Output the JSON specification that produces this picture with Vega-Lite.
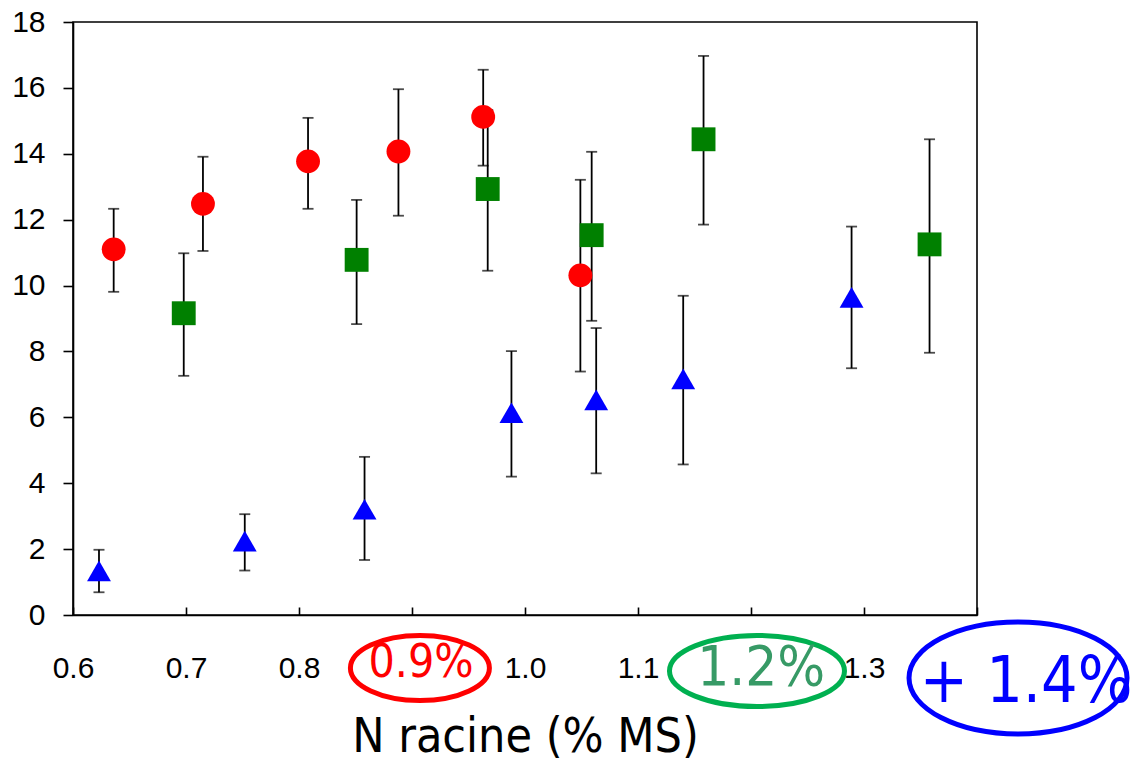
{
  "$schema": "https://vega.github.io/schema/vega-lite/v6.json",
  "width": 904,
  "height": 593,
  "autosize": {"type": "none"},
  "padding": {"left": 73, "top": 22, "right": 159, "bottom": 149},
  "background": "white",
  "config": {
    "view": {"stroke": "black", "strokeWidth": 1.6},
    "axis": {
      "grid": false,
      "domainColor": "black",
      "domainWidth": 1.6,
      "tickColor": "black",
      "tickWidth": 1.6,
      "labelFont": "Liberation Sans",
      "labelFontSize": 30,
      "labelColor": "black"
    }
  },
  "datasets": {
    "pts": [
      {"grp": "0.9%", "n": 0.636, "v": 11.10, "lo": 9.81, "hi": 12.33},
      {"grp": "0.9%", "n": 0.715, "v": 12.48, "lo": 11.05, "hi": 13.91},
      {"grp": "0.9%", "n": 0.808, "v": 13.77, "lo": 12.33, "hi": 15.09},
      {"grp": "0.9%", "n": 0.888, "v": 14.07, "lo": 12.12, "hi": 15.96},
      {"grp": "0.9%", "n": 0.963, "v": 15.12, "lo": 13.64, "hi": 16.55},
      {"grp": "0.9%", "n": 1.049, "v": 10.31, "lo": 7.39, "hi": 13.21},
      {"grp": "1.2%", "n": 0.698, "v": 9.16, "lo": 7.26, "hi": 10.98},
      {"grp": "1.2%", "n": 0.851, "v": 10.78, "lo": 8.83, "hi": 12.60},
      {"grp": "1.2%", "n": 0.967, "v": 12.93, "lo": 10.45, "hi": 15.33},
      {"grp": "1.2%", "n": 1.059, "v": 11.53, "lo": 8.93, "hi": 14.06},
      {"grp": "1.2%", "n": 1.158, "v": 14.44, "lo": 11.85, "hi": 16.97},
      {"grp": "1.2%", "n": 1.358, "v": 11.25, "lo": 7.96, "hi": 14.44},
      {"grp": "1.4%", "n": 0.623, "v": 1.34, "lo": 0.69, "hi": 1.98},
      {"grp": "1.4%", "n": 0.752, "v": 2.24, "lo": 1.35, "hi": 3.06},
      {"grp": "1.4%", "n": 0.858, "v": 3.21, "lo": 1.67, "hi": 4.80},
      {"grp": "1.4%", "n": 0.988, "v": 6.14, "lo": 4.20, "hi": 8.01},
      {"grp": "1.4%", "n": 1.063, "v": 6.53, "lo": 4.30, "hi": 8.71},
      {"grp": "1.4%", "n": 1.140, "v": 7.17, "lo": 4.57, "hi": 9.69},
      {"grp": "1.4%", "n": 1.289, "v": 9.64, "lo": 7.49, "hi": 11.79}
    ]
  },
  "layer": [
    {
      "data": {"name": "pts"},
      "mark": {
        "type": "errorbar",
        "ticks": {"size": 11, "thickness": 1.8, "color": "black"},
        "rule": {"strokeWidth": 1.8, "color": "black"}
      },
      "encoding": {
        "x": {
          "field": "n", "type": "quantitative",
          "scale": {"domain": [0.6, 1.4], "nice": false, "zero": false},
          "axis": {
            "values": [0.6, 0.7, 0.8, 0.9, 1.0, 1.1, 1.2, 1.3, 1.4],
            "format": ".1f",
            "labelExpr": "(abs(datum.value-0.9)<0.01 || abs(datum.value-1.2)<0.01 || abs(datum.value-1.4)<0.01) ? '' : datum.label",
            "tickSize": -8,
            "labelPadding": 46,
            "labelFlush": false,
            "labelOverlap": false,
            "title": "N racine (% MS)",
            "titleFont": "DejaVu Sans Condensed, DejaVu Sans",
            "titleFontSize": 48,
            "titleFontWeight": "normal",
            "titleColor": "black",
            "titlePadding": 30
          }
        },
        "y": {
          "field": "lo", "type": "quantitative",
          "scale": {"domain": [0, 18], "nice": false},
          "axis": {
            "values": [0, 2, 4, 6, 8, 10, 12, 14, 16, 18],
            "tickSize": 10,
            "labelPadding": 18,
            "title": null
          }
        },
        "y2": {"field": "hi"}
      }
    },
    {
      "data": {"name": "pts"},
      "mark": {"type": "point", "filled": true, "size": 570, "opacity": 1, "strokeWidth": 0},
      "encoding": {
        "x": {"field": "n", "type": "quantitative"},
        "y": {"field": "v", "type": "quantitative"},
        "shape": {
          "field": "grp", "type": "nominal",
          "scale": {"domain": ["0.9%", "1.2%", "1.4%"], "range": ["circle", "square", "triangle-up"]},
          "legend": null
        },
        "color": {
          "field": "grp", "type": "nominal",
          "scale": {"domain": ["0.9%", "1.2%", "1.4%"], "range": ["#ff0000", "#008000", "#0000ff"]},
          "legend": null
        }
      }
    },
    {
      "data": {"values": [{"n": 0.907, "v": -1.61}]},
      "mark": {"type": "point", "shape": "M-1,0A1,0.468,0,1,1,1,0A1,0.468,0,1,1,-1,0Z", "size": 19321, "filled": false, "fill": "white", "fillOpacity": 1, "stroke": "#ff0000", "strokeWidth": 5, "opacity": 1},
      "encoding": {"x": {"field": "n", "type": "quantitative"}, "y": {"field": "v", "type": "quantitative"}}
    },
    {
      "data": {"values": [{"n": 1.2053, "v": -1.70}]},
      "mark": {"type": "point", "shape": "M-1,0A1,0.406,0,1,1,1,0A1,0.406,0,1,1,-1,0Z", "size": 30625, "filled": false, "fill": "white", "fillOpacity": 1, "stroke": "#00b050", "strokeWidth": 5, "opacity": 1},
      "encoding": {"x": {"field": "n", "type": "quantitative"}, "y": {"field": "v", "type": "quantitative"}}
    },
    {
      "data": {"values": [{"n": 1.4363, "v": -1.91}]},
      "mark": {"type": "point", "shape": "M-1,0A1,0.514,0,1,1,1,0A1,0.514,0,1,1,-1,0Z", "size": 47524, "filled": false, "fill": "white", "fillOpacity": 0, "stroke": "#0000ff", "strokeWidth": 5, "opacity": 1},
      "encoding": {"x": {"field": "n", "type": "quantitative"}, "y": {"field": "v", "type": "quantitative"}}
    },
    {
      "data": {"values": [
        {"n": 0.908, "v": -1.45, "t": "0.9%", "c": "r"}
      ]},
      "mark": {"type": "text", "font": "DejaVu Sans Condensed, DejaVu Sans", "fontSize": 46, "color": "#ff0000", "baseline": "middle", "align": "center"},
      "encoding": {"x": {"field": "n", "type": "quantitative"}, "y": {"field": "v", "type": "quantitative"}, "text": {"field": "t"}}
    },
    {
      "data": {"values": [
        {"n": 1.209, "v": -1.62, "t": "1.2%"}
      ]},
      "mark": {"type": "text", "font": "DejaVu Sans Condensed, DejaVu Sans", "fontSize": 56, "color": "#379a66", "baseline": "middle", "align": "center"},
      "encoding": {"x": {"field": "n", "type": "quantitative"}, "y": {"field": "v", "type": "quantitative"}, "text": {"field": "t"}}
    },
    {
      "data": {"values": [
        {"n": 1.4434, "v": -2.06, "t": "+ 1.4%"}
      ]},
      "mark": {"type": "text", "font": "DejaVu Sans Condensed, DejaVu Sans", "fontSize": 64, "color": "#0000ff", "baseline": "middle", "align": "center"},
      "encoding": {"x": {"field": "n", "type": "quantitative"}, "y": {"field": "v", "type": "quantitative"}, "text": {"field": "t"}}
    }
  ]
}
